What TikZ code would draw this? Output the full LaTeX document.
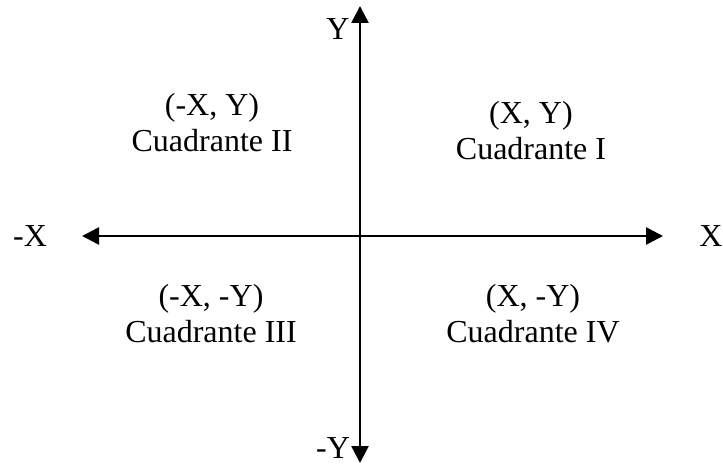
\documentclass[tikz,border=0pt]{standalone}
\usepackage{fontspec}
\setmainfont{Liberation Serif}
\usetikzlibrary{arrows.meta, positioning}

\begin{document}
\begin{tikzpicture}[
    x=1pt, y=-1pt,
    axis/.style={line width=2.6pt, -{Triangle[length=17pt, width=17pt]}},
    lbl/.style={font=\fontsize{32}{36}\selectfont, inner sep=0pt, anchor=base},
    quad/.style={font=\fontsize{32}{36}\selectfont, inner sep=0pt, align=center, anchor=base}
  ]
    \useasboundingbox (0,0) rectangle (723,465);

    % Axis ends
    \coordinate (o) at (360,236);
    \coordinate (xpos) at (663,236);
    \coordinate (xneg) at (82,236);
    \coordinate (ypos) at (360,6);
    \coordinate (yneg) at (360,463);

    % Axes
    \draw [axis] (o) -- (xpos);
    \draw [axis] (o) -- (xneg);
    \draw [axis] (o) -- (ypos);
    \draw [axis] (o) -- (yneg);

    % Axis labels
    \node (lx) [lbl] at (711,247) {X};
    \node (lmx) [lbl] at (30,247) {-X};
    \node (ly) [lbl] at (338,40) {Y};
    \node (lmy) [lbl] at (333,458) {-Y};

    % Quadrants
    \node (q1) [quad] at (531,160) {(X, Y)\\Cuadrante I};
    \node (q2) [quad] at (212,152) {(-X, Y)\\Cuadrante II};
    \node (q3) [quad] at (211,342) {(-X, -Y)\\Cuadrante III};
    \node (q4) [quad] at (533,342) {(X, -Y)\\Cuadrante IV};

\end{tikzpicture}
\end{document}
